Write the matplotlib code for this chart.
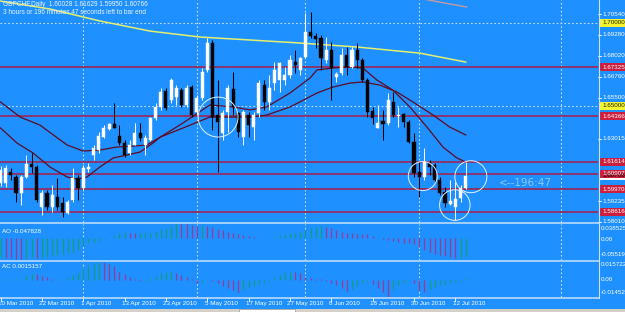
import matplotlib
matplotlib.use("Agg")
import matplotlib.pyplot as plt
from matplotlib.patches import Rectangle, Ellipse
from matplotlib.lines import Line2D
from matplotlib.transforms import blended_transform_factory

plt.rcParams['font.family'] = ['Liberation Sans', 'DejaVu Sans']

BG = '#1e90ff'
W, H = 625, 312

# --- daily GBPCHF candles, 10 Mar 2010 .. 13 Jul 2010 ---
opens = [1.6034, 1.6034, 1.6100, 1.6070, 1.5974, 1.6070, 1.6149, 1.6130, 1.5889, 1.5974,
         1.5889, 1.5949, 1.5913, 1.5853, 1.5931, 1.6064, 1.6004, 1.6118, 1.6203, 1.6233,
         1.6311, 1.6360, 1.6390, 1.6317, 1.6275, 1.6215, 1.6263, 1.6336, 1.6263, 1.6293,
         1.6426, 1.6493, 1.6589, 1.6535, 1.6553, 1.6595, 1.6505, 1.6613, 1.6463, 1.6547,
         1.6716, 1.6879, 1.6444, 1.6336, 1.6463, 1.6601, 1.6456, 1.6311, 1.6444, 1.6372,
         1.6456, 1.6625, 1.6523, 1.6638, 1.6656, 1.6656, 1.6686, 1.6764, 1.6716, 1.6794,
         1.6945, 1.6921, 1.6909, 1.6776, 1.6837, 1.6674, 1.6698, 1.6806, 1.6734, 1.6837,
         1.6776, 1.6656, 1.6469, 1.6366, 1.6408, 1.6396, 1.6523, 1.6438, 1.6450, 1.6402,
         1.6281, 1.6100, 1.6070, 1.6155, 1.6143, 1.6052, 1.5980, 1.5907, 1.5889, 1.5943,
         1.60028]
highs = [1.6137, 1.6143, 1.6124, 1.6082, 1.6082, 1.6203, 1.6215, 1.6143, 1.5992, 1.5992,
         1.6022, 1.6064, 1.5949, 1.5931, 1.6124, 1.6082, 1.6143, 1.6155, 1.6263, 1.6342,
         1.6384, 1.6396, 1.6517, 1.6384, 1.6293, 1.6293, 1.6396, 1.6396, 1.6323, 1.6432,
         1.6517, 1.6607, 1.6607, 1.6668, 1.6625, 1.6607, 1.6625, 1.6625, 1.6565, 1.6728,
         1.6909, 1.6897, 1.6656, 1.6475, 1.6625, 1.6704, 1.6463, 1.6475, 1.6463, 1.6463,
         1.6656, 1.6656, 1.6686, 1.6764, 1.6764, 1.6734, 1.6806, 1.6837, 1.6794, 1.7060,
         1.7066, 1.6939, 1.6927, 1.6915, 1.6885, 1.6704, 1.6849, 1.6855, 1.6855, 1.6879,
         1.6788, 1.6668, 1.6493, 1.6505, 1.6475, 1.6577, 1.6583, 1.6493, 1.6456, 1.6414,
         1.6336, 1.6161, 1.6245, 1.6173, 1.6155, 1.6070, 1.6010, 1.6052, 1.6040, 1.6022,
         1.61629]
lows = [1.6016, 1.6010, 1.6052, 1.5919, 1.5901, 1.6064, 1.6094, 1.5919, 1.5841, 1.5871,
        1.5859, 1.5871, 1.5829, 1.5847, 1.5919, 1.5931, 1.5992, 1.6100, 1.6173, 1.6215,
        1.6305, 1.6354, 1.6366, 1.6263, 1.6191, 1.6203, 1.6263, 1.6287, 1.6203, 1.6287,
        1.6414, 1.6475, 1.6475, 1.6517, 1.6505, 1.6493, 1.6493, 1.6432, 1.6444, 1.6535,
        1.6704, 1.6354, 1.6100, 1.6293, 1.6342, 1.6444, 1.6311, 1.6263, 1.6311, 1.6293,
        1.6432, 1.6475, 1.6475, 1.6595, 1.6583, 1.6625, 1.6668, 1.6698, 1.6686, 1.6788,
        1.6909, 1.6849, 1.6716, 1.6758, 1.6535, 1.6644, 1.6686, 1.6686, 1.6728, 1.6728,
        1.6644, 1.6432, 1.6390, 1.6366, 1.6293, 1.6384, 1.6432, 1.6372, 1.6372, 1.6275,
        1.6070, 1.5949, 1.6052, 1.6082, 1.6040, 1.5961, 1.5889, 1.5901, 1.5811, 1.5919,
        1.59950]
closes = [1.6112, 1.6124, 1.6082, 1.5974, 1.6070, 1.6149, 1.6130, 1.5931, 1.5974, 1.5889,
          1.5961, 1.5889, 1.5859, 1.5919, 1.6064, 1.6004, 1.6124, 1.6130, 1.6245, 1.6317,
          1.6366, 1.6390, 1.6366, 1.6275, 1.6203, 1.6263, 1.6336, 1.6305, 1.6305, 1.6426,
          1.6493, 1.6583, 1.6487, 1.6656, 1.6607, 1.6505, 1.6607, 1.6444, 1.6547, 1.6704,
          1.6879, 1.6432, 1.6402, 1.6456, 1.6607, 1.6493, 1.6342, 1.6463, 1.6384, 1.6444,
          1.6638, 1.6523, 1.6607, 1.6716, 1.6758, 1.6686, 1.6776, 1.6746, 1.6788, 1.6945,
          1.6921, 1.6903, 1.6788, 1.6837, 1.6728, 1.6692, 1.6806, 1.6734, 1.6837, 1.6776,
          1.6656, 1.6463, 1.6426, 1.6396, 1.6390, 1.6535, 1.6444, 1.6444, 1.6402, 1.6281,
          1.6094, 1.6070, 1.6161, 1.6130, 1.6052, 1.5974, 1.5913, 1.5925, 1.5937, 1.6004,
          1.60766]

# moving averages, read at a handful of bars
ma_fast_x = [0, 3.2, 6.3, 9.6, 12.9, 14.8, 16.7, 19.2, 21.8, 24.5, 27, 29.5, 30.9, 35.3, 40.5, 45,
             48.3, 51.5, 56, 59.9, 61.2, 64.3, 67.6, 70.1, 72.8, 75.9, 79.2, 82.5, 85.6, 88.3, 90]
ma_fast_y = [1.6366, 1.6275, 1.6215, 1.6130, 1.6070, 1.6058, 1.6070, 1.6130, 1.6185, 1.6203, 1.6221,
             1.6275, 1.6311, 1.6396, 1.6505, 1.6493, 1.6475, 1.6493, 1.6577, 1.6668, 1.6716, 1.6728,
             1.6734, 1.6728, 1.6656, 1.6595, 1.6493, 1.6372, 1.6251, 1.6185, 1.6161]
ma_slow_x = [0, 3.8, 7.6, 12.9, 16, 19.2, 22.5, 25.6, 28.3, 30.9, 35.3, 40.5, 45, 48.3, 51.5, 56,
             57.9, 61.2, 64.3, 67.6, 70.1, 73.4, 76.7, 79.8, 83.7, 86.9, 90]
ma_slow_y = [1.6523, 1.6432, 1.6384, 1.6263, 1.6227, 1.6233, 1.6251, 1.6257, 1.6263, 1.6311, 1.6366,
             1.6432, 1.6432, 1.6432, 1.6444, 1.6493, 1.6523, 1.6577, 1.6613, 1.6637, 1.6644, 1.6625,
             1.6583, 1.6523, 1.6444, 1.6372, 1.6324]
ma200_x = [0, 9.6, 19.2, 28.9, 38.6, 48.3, 57.9, 68.9, 81.1, 90]
ma200_y = [1.7132, 1.7084, 1.7012, 1.6951, 1.6915, 1.6897, 1.6879, 1.6855, 1.6818, 1.6764]

# Awesome / Accelerator oscillators
ao = [-0.048, -0.050, -0.051, -0.053, -0.054, -0.051, -0.049, -0.050, -0.050, -0.048,
      -0.045, -0.043, -0.042, -0.038, -0.035, -0.030, -0.020, -0.013, -0.010, -0.006,
      -0.002, 0.002, 0.007, 0.014, 0.016, 0.015, 0.013, 0.013, 0.014, 0.017,
      0.020, 0.023, 0.027, 0.033, 0.0385, 0.037, 0.036, 0.034, 0.033, 0.034,
      0.033, 0.030, 0.025, 0.021, 0.017, 0.013, 0.010, 0.008, 0.006, 0.0035,
      0.001, 0.001, 0.002, 0.004, 0.007, 0.010, 0.013, 0.015, 0.017, 0.021,
      0.027, 0.030, 0.031, 0.030, 0.026, 0.021, 0.016, 0.014, 0.013, 0.012,
      0.011, 0.010, 0.006, 0.002, -0.001, -0.005, -0.007, -0.009, -0.011, -0.013,
      -0.016, -0.022, -0.030, -0.036, -0.040, -0.044, -0.047, -0.049, -0.050, -0.050,
      -0.047828]
ac = [0.0004, 0.0003, 0.0004, 0.0006, 0.0012, 0.0042, 0.0050, 0.0048, 0.0034, 0.0022,
      0.0004, 0.0003, 0.0011, 0.0022, 0.0042, 0.0057, 0.0100, 0.0130, 0.0148, 0.0157,
      0.0150, 0.0140, 0.0115, 0.0070, 0.0050, 0.0022, 0.0011, -0.0008, -0.0006, 0.0011,
      0.0034, 0.0057, 0.0070, 0.0078, 0.0057, 0.0042, 0.0022, 0.0006, -0.0022, -0.0014,
      0.0003, -0.0008, -0.0028, -0.0051, -0.0071, -0.0085, -0.0100, -0.0086, -0.0071, -0.0051,
      -0.0034, -0.0017, -0.0006, 0.0014, 0.0042, 0.0068, 0.0071, 0.0068, 0.0057, 0.0028,
      0.0020, 0.0011, 0.0006, -0.0006, -0.0022, -0.0042, -0.0071, -0.0091, -0.0080, -0.0051,
      -0.0022, -0.0006, -0.0034, -0.0071, -0.0100, -0.01452, -0.0086, -0.0042, -0.0022, -0.0008,
      -0.0022, -0.0086, -0.0100, -0.0080, -0.0057, -0.0042, -0.0034, -0.0022, -0.0014, -0.0006,
      0.0015157]

date_idx = [0, 8, 16, 24, 32, 40, 48, 56, 64, 72, 80, 88]
date_labels = ['10 Mar 2010', '22 Mar 2010', '1 Apr 2010', '13 Apr 2010', '23 Apr 2010',
               '5 May 2010', '17 May 2010', '27 May 2010', '8 Jun 2010', '18 Jun 2010',
               '30 Jun 2010', '12 Jul 2010']
grid_idx = [16, 38, 59, 81, 108.4]

red_levels = [1.67325, 1.64366, 1.61614, 1.60907, 1.59970, 1.58616]
yellow_levels = [1.70000, 1.65000]
price_ticks = [1.70540, 1.69280, 1.68020, 1.66760, 1.65500, 1.63015, 1.59235, 1.58010]

# circles drawn on the chart: bar, price, width (bars), height (price)
circles = [(42.1, 1.6432, 7.7, 0.0241), (81.7, 1.6076, 5.6, 0.0175),
           (87.9, 1.5901, 5.9, 0.0185), (91.0, 1.6072, 6.2, 0.0193)]

fig = plt.figure(figsize=(W / 100, H / 100), dpi=100, facecolor=BG)


def pix_axes(x0, y0, x1, y1):
    return fig.add_axes([x0 / W, 1 - y1 / H, (x1 - x0) / W, (y1 - y0) / H])


ax = pix_axes(0, 0, 598, 221.5)
ax_ao = pix_axes(0, 223.5, 598, 259.5)
ax_ac = pix_axes(0, 261.5, 598, 297)
for a in (ax, ax_ao, ax_ac):
    a.set_xlim(-0.1, 115.6)
    a.axis('off')
    for g in grid_idx:
        a.axvline(g, color='#c4defc', lw=0.8, ls=(0, (1.5, 2)), zorder=1)

ax.set_ylim(1.58017, 1.71385)
ax_ao.set_ylim(-0.055192, 0.038525)
ax_ac.set_ylim(-0.014522, 0.015722)

for lv in yellow_levels:
    ax.axhline(lv, color='#c4defc', lw=0.8, ls=(0, (1.5, 2)), zorder=1)
for lv in red_levels:
    ax.axhline(lv, color='#9e2656', lw=1.2, zorder=2)

ax.plot(ma200_x, ma200_y, color='#e4f070', lw=1.1, zorder=3)
ax.plot(ma_fast_x, ma_fast_y, color='#5e0a22', lw=0.9, zorder=3)
ax.plot(ma_slow_x, ma_slow_y, color='#5e0a22', lw=0.9, zorder=3)
ax.plot([82.5, 90.2], [1.7140, 1.7096], color='#c49aa6', lw=1.0, zorder=3)

# candles
for i in range(len(opens)):
    o, h, l, c = opens[i], highs[i], lows[i], closes[i]
    col = 'white' if c >= o else 'black'
    ax.vlines(i, l, h, color=col, lw=0.75, zorder=4)
    lo, hi = min(o, c), max(o, c)
    hi = max(hi, lo + 0.0005)
    ax.add_patch(Rectangle((i - 0.3, lo), 0.6, hi - lo, fc=col, ec=col, lw=0.3, zorder=5))

for cx, cy, w, h in circles:
    ax.add_patch(Ellipse((cx, cy), w, h, fill=False, ec='#e4f2ff', lw=0.7, zorder=6))

ax.text(96.5, 1.6033, '<--196:47', color='#8ec8ff', fontsize=7.5, family='DejaVu Sans',
        va='center', ha='left', zorder=6)

# oscillators
UP, DOWN = '#10a078', '#9c3a92'
ao_cols = [UP if i == 0 or ao[i] >= ao[i - 1] else DOWN for i in range(len(ao))]
ax_ao.vlines(range(len(ao)), 0, ao, colors=ao_cols, lw=0.9, zorder=3)
ac_cols = [UP if i == 0 or ac[i] >= ac[i - 1] else DOWN for i in range(len(ac))]
ax_ac.vlines(range(len(ac)), 0, ac, colors=ac_cols, lw=0.9, zorder=3)

ax_ao.text(0.004, 0.78, 'AO -0.047828', transform=ax_ao.transAxes, color='white', fontsize=4.5, va='center')
ax_ac.text(0.004, 0.86, 'AC 0.0015157', transform=ax_ac.transAxes, color='white', fontsize=4.5, va='center')

# right-hand price scale
tr = blended_transform_factory(ax.transAxes, ax.transData)
half = 0.0024
for p in price_ticks:
    ax.annotate(f'{p:.5f}', (1.0, p), xycoords=tr, xytext=(4, 0), textcoords='offset pixels',
                color='white', fontsize=4.5, va='center', annotation_clip=False)
    ax.add_line(Line2D([1.0, 1.005], [p, p], transform=tr, color='white', lw=0.6, clip_on=False))


def box_label(val, txt, fc, tc):
    ax.add_patch(Rectangle((1.0017, val - half), 0.05, 2 * half, transform=tr, fc=fc, ec='none',
                           clip_on=False, zorder=7))
    ax.annotate(txt, (1.0, val), xycoords=tr, xytext=(4, 0), textcoords='offset pixels',
                color=tc, fontsize=4.5, va='center', annotation_clip=False, zorder=8)


box_label(closes[-1], f'{closes[-1]:.5f}', 'white', 'black')
for lv in yellow_levels:
    box_label(lv, f'{lv:.5f}', '#f4f432', '#202000')
for lv in red_levels:
    box_label(lv, f'{lv:.5f}', '#cc1e3e', 'white')

for a, items in ((ax_ao, [(0.038525, '0.038525', -5.5), (0, '0.00', -1), (-0.055192, '-0.055192', 4.5)]),
                 (ax_ac, [(0.015722, '0.015722', -3), (0, '0.00', 0), (-0.014522, '-0.014522', 4.3)])):
    t = blended_transform_factory(a.transAxes, a.transData)
    for v, s, dy in items:
        a.annotate(s, (1.0, v), xycoords=t, xytext=(3, dy), textcoords='offset pixels',
                   color='white', fontsize=4.5, va='center', annotation_clip=False)

# header
fig.text(3 / W, 1 - 5 / H, 'GBPCHF,Daily  1.60028 1.61629 1.59950 1.60766', color='#eef4ff',
         fontsize=4.7, va='center')
fig.text(3 / W, 1 - 12 / H, '3 hours or 196 minutes 47 seconds left to bar end', color='#eef4ff',
         fontsize=4.7, va='center')

# panel separators
sep = '#c8e2fc'
for yy in (222.5, 260.5, 297.5):
    fig.add_artist(Line2D([0, 599 / W], [1 - yy / H] * 2, transform=fig.transFigure, color=sep, lw=1.1))
fig.add_artist(Line2D([598.5 / W] * 2, [1, 1 - 297.5 / H], transform=fig.transFigure, color=sep, lw=0.8))

# date axis
trx = blended_transform_factory(ax_ac.transData, fig.transFigure)
for i, s in zip(date_idx, date_labels):
    fig.add_artist(Line2D([i, i], [1 - 297.5 / H, 1 - 300.5 / H], transform=trx, color='white', lw=0.6))
    fig.text(i - 0.5, 1 - 303.5 / H, s, transform=trx, color='white', fontsize=4.5, va='center', ha='left')

# terminal tab strip
fig.add_artist(Rectangle((0, 0), 1, 3 / H, transform=fig.transFigure, fc='#d4d0c8', ec='none'))
fig.add_artist(Rectangle((239 / W, 0), 56 / W, 3.5 / H, transform=fig.transFigure, fc='white', ec='#808080', lw=0.4))

fig.savefig('out.png', dpi=100, facecolor=BG)
